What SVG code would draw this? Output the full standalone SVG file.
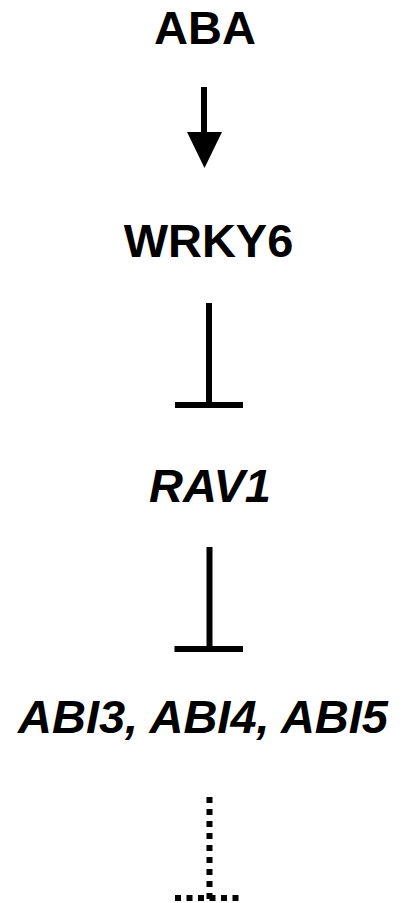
<svg xmlns="http://www.w3.org/2000/svg" width="403" height="903" viewBox="0 0 403 903">
<style>
.lbl{font-family:"Liberation Sans",Arial,sans-serif;font-weight:bold;font-size:47px;fill:#000;text-anchor:middle}
.it{font-style:italic}
.ln{stroke:#000;stroke-width:6;fill:none}
.dot{stroke:#000;stroke-width:6;fill:none;stroke-dasharray:6 6}
</style>
<rect width="403" height="903" fill="#fff"/>
<g id="connectors">
<g id="aba-wrky6">
<line class="ln" x1="204" y1="87" x2="204" y2="134"/>
<polygon points="187,132 222,132 204.5,168" fill="#000"/>
</g>
<g id="wrky6-rav1">
<line class="ln" x1="209" y1="303" x2="209" y2="405"/>
<line class="ln" x1="175" y1="405" x2="243" y2="405"/>
</g>
<g id="rav1-abi">
<line class="ln" x1="209.5" y1="547" x2="209.5" y2="649"/>
<line class="ln" x1="174.5" y1="649" x2="243" y2="649"/>
</g>
<g id="abi-next">
<line class="dot" x1="209.5" y1="797" x2="209.5" y2="899"/>
<line class="dot" x1="175" y1="898" x2="241" y2="898" style="stroke-dasharray:6 5.5"/>
</g>
</g>
<g id="node-aba"><text class="lbl" x="205" y="44">ABA</text></g>
<g id="node-wrky6"><text class="lbl" x="208.5" y="257">WRKY6</text></g>
<g id="node-rav1"><text class="lbl it" x="210" y="502">RAV1</text></g>
<g id="node-abi"><text class="lbl it" x="203" y="733">ABI3, ABI4, ABI5</text></g>
</svg>
